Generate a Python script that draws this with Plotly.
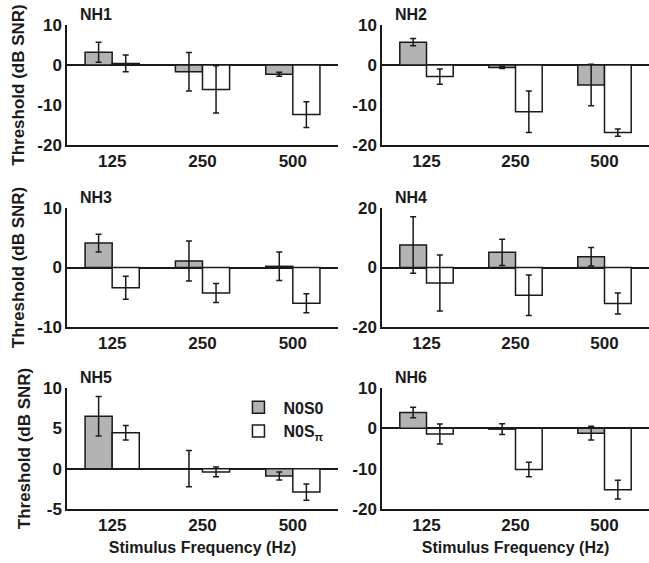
import plotly.graph_objects as go
from plotly.subplots import make_subplots

freqs = ["125", "250", "500"]
subjects = ["NH1", "NH2", "NH3", "NH4", "NH5", "NH6"]

nh1_n0s0 = [3.2, -1.7, -2.3]
nh1_n0s0_err = [2.5, 4.8, 0.5]
nh1_n0spi = [0.4, -6.1, -12.4]
nh1_n0spi_err = [2.1, 5.9, 3.2]

nh2_n0s0 = [5.7, -0.6, -5.0]
nh2_n0s0_err = [0.9, 0.3, 5.2]
nh2_n0spi = [-2.9, -11.7, -16.9]
nh2_n0spi_err = [1.9, 5.2, 0.9]

nh3_n0s0 = [4.1, 1.1, 0.2]
nh3_n0s0_err = [1.5, 3.35, 2.4]
nh3_n0spi = [-3.4, -4.3, -6.0]
nh3_n0spi_err = [1.95, 1.6, 1.6]

nh4_n0s0 = [7.6, 5.1, 3.6]
nh4_n0s0_err = [9.5, 4.4, 3.1]
nh4_n0spi = [-5.2, -9.3, -12.1]
nh4_n0spi_err = [9.4, 6.8, 3.5]

nh5_n0s0 = [6.5, 0.0, -0.9]
nh5_n0s0_err = [2.45, 2.25, 0.5]
nh5_n0spi = [4.45, -0.4, -2.9]
nh5_n0spi_err = [0.9, 0.6, 1.0]

nh6_n0s0 = [3.9, -0.2, -1.2]
nh6_n0s0_err = [1.3, 1.35, 1.7]
nh6_n0spi = [-1.4, -10.2, -15.2]
nh6_n0spi_err = [2.5, 1.8, 2.35]

y_ranges = [[-20, 10], [-20, 10], [-10, 10], [-20, 20], [-5, 10], [-20, 10]]
y_ticks = [[10, 0, -10, -20], [10, 0, -10, -20], [10, 0, -10], [20, 0, -20],
           [10, 5, 0, -5], [10, 0, -10, -20]]
y_ticktext = [[str(v) for v in t] for t in y_ticks]

series_labels = ["N0S0", "N0S<sub>π</sub>"]
y_title = "Threshold (dB SNR)"
x_title = "Stimulus Frequency (Hz)"

data = [
    (nh1_n0s0, nh1_n0s0_err, nh1_n0spi, nh1_n0spi_err),
    (nh2_n0s0, nh2_n0s0_err, nh2_n0spi, nh2_n0spi_err),
    (nh3_n0s0, nh3_n0s0_err, nh3_n0spi, nh3_n0spi_err),
    (nh4_n0s0, nh4_n0s0_err, nh4_n0spi, nh4_n0spi_err),
    (nh5_n0s0, nh5_n0s0_err, nh5_n0spi, nh5_n0spi_err),
    (nh6_n0s0, nh6_n0s0_err, nh6_n0spi, nh6_n0spi_err),
]

FONT = "Liberation Sans, Arial, sans-serif"
INK = "#1a1a1a"
GRAY = "#b3b3b3"

fig = make_subplots(rows=3, cols=2)

W, H = 649, 563
ml, mr, mt, mb = 67, 0, 25, 54
pw, ph = W - ml - mr, H - mt - mb
x_dom = [[0, (338 - ml) / pw], [(382 - ml) / pw, 1.0]]
y_dom = [[(H - mb - 145) / ph, 1.0], [(H - mb - 327) / ph, (H - mb - 208) / ph],
         [0.0, (H - mb - 388) / ph]]

for i, (s0, s0e, spi, spie) in enumerate(data):
    r, c = i // 2 + 1, i % 2 + 1
    fig.add_trace(go.Bar(
        x=freqs, y=s0, name=series_labels[0], legendgroup="a", showlegend=(i == 0),
        marker=dict(color=GRAY, line=dict(color=INK, width=1.5)),
        error_y=dict(type="data", array=s0e, color=INK, thickness=1.5, width=3),
    ), row=r, col=c)
    fig.add_trace(go.Bar(
        x=freqs, y=spi, name=series_labels[1], legendgroup="b", showlegend=(i == 0),
        marker=dict(color="white", line=dict(color=INK, width=1.5)),
        error_y=dict(type="data", array=spie, color=INK, thickness=1.5, width=3),
    ), row=r, col=c)

    fig.update_xaxes(
        domain=x_dom[c - 1], showline=True, linecolor=INK, linewidth=1.5,
        ticks="", showgrid=False, zeroline=False, range=[-0.5, 2.5],
        automargin=False, tickfont=dict(size=17),
        title=dict(text=x_title if r == 3 else None, standoff=8,
                   font=dict(size=16, family=FONT, weight="bold", color=INK)),
        row=r, col=c)
    fig.update_yaxes(
        domain=y_dom[r - 1], showline=True, linecolor=INK, linewidth=1.5,
        ticks="", showgrid=False, zeroline=True, zerolinecolor=INK, zerolinewidth=1.5,
        automargin=False, tickfont=dict(size=17),
        range=y_ranges[i], tickvals=y_ticks[i], ticktext=y_ticktext[i],
        title=dict(text=y_title if c == 1 else None, standoff=8,
                   font=dict(size=17, family=FONT, weight="bold", color=INK)),
        row=r, col=c)
    ax = fig.get_subplot(r, c)
    xref = ax.xaxis.plotly_name.replace("axis", "")
    yref = ax.yaxis.plotly_name.replace("axis", "")
    fig.add_annotation(
        text=subjects[i], xref=f"{xref} domain", yref=f"{yref} domain",
        x=0.04, y=1.0, xanchor="left", yanchor="bottom", showarrow=False,
        font=dict(size=16, family=FONT, weight="bold", color=INK))

fig.update_layout(
    width=W, height=H, margin=dict(l=ml, r=mr, t=mt, b=mb),
    paper_bgcolor="white", plot_bgcolor="white",
    barmode="group", bargap=0.4, bargroupgap=0,
    font=dict(family=FONT, size=16, weight="bold", color=INK),
    legend=dict(x=0.286, y=0.245, xanchor="left", yanchor="top",
                bgcolor="rgba(0,0,0,0)", tracegroupgap=0, itemwidth=40,
                font=dict(size=16, family=FONT, weight="bold", color=INK)),
)

fig.write_html(
    "out.html",
    config={"displayModeBar": False},
    post_script="document.body.style.margin='0';document.body.style.overflow='hidden';",
)
